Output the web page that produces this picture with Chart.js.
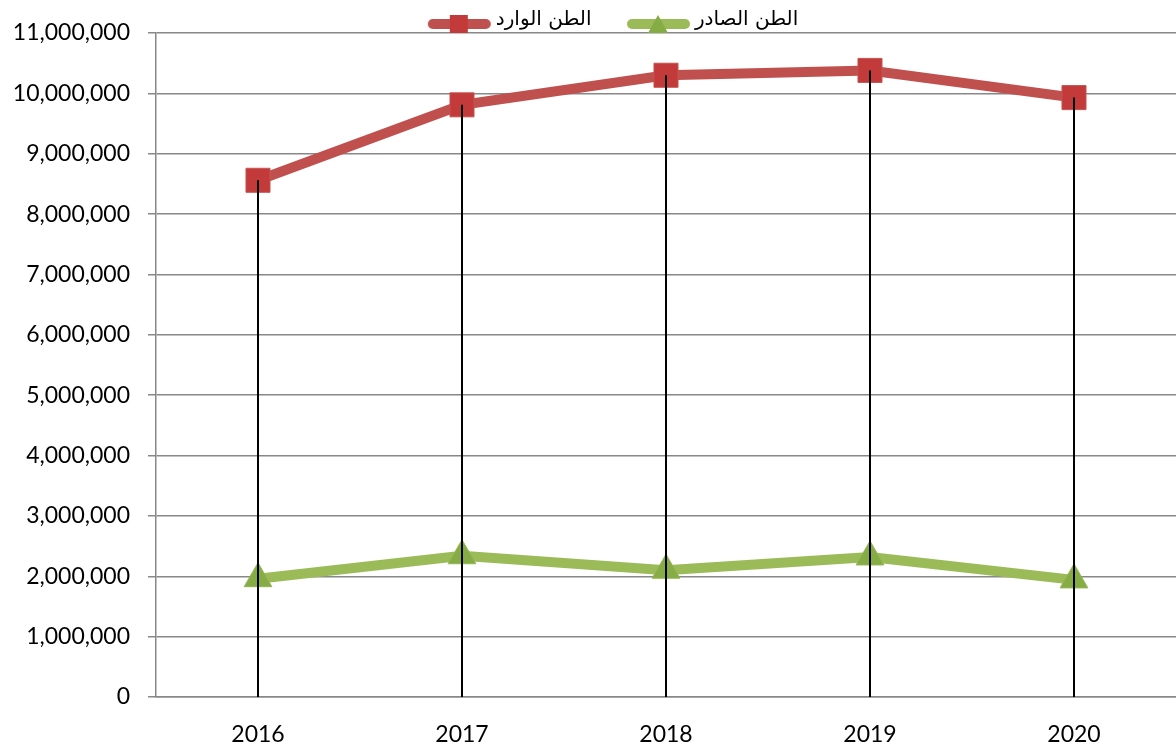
<!DOCTYPE html>
<html>
<head>
<meta charset="utf-8">
<script src="https://cdn.jsdelivr.net/npm/chart.js@4.4.0/dist/chart.umd.min.js"></script>
<style>
  html, body { margin: 0; padding: 0; background: #fff; overflow: hidden; }
  #wrap { width: 1176px; height: 746px; }
  canvas { display: block; }
</style>
</head>
<body>
<div id="wrap"><canvas id="portChart"></canvas></div>
<script>
// years on the category axis
const years = ["2016", "2017", "2018", "2019", "2020"];
// incoming tonnage (red) and outgoing tonnage (green)
const incomingTons = [8560000, 9810000, 10300000, 10380000, 9930000];
const outgoingTons = [1960000, 2340000, 2100000, 2320000, 1940000];
const seriesNames = ["الطن الوارد", "الطن الصادر"];

const RED = "#C0504D";
const GREEN = "#9BBB59";

// small line + marker picture for the legend
function legendIcon(color, fill, marker) {
  const c = document.createElement("canvas");
  c.width = 80;
  c.height = 30;
  const g = c.getContext("2d");
  g.strokeStyle = color;
  g.lineWidth = 10;
  g.lineCap = "round";
  g.beginPath();
  g.moveTo(16, 19);
  g.lineTo(69, 19);
  g.stroke();
  g.fillStyle = fill;
  if (marker === "rect") {
    g.fillRect(33, 10, 18, 18);
  } else {
    g.beginPath();
    g.moveTo(42, 10);
    g.lineTo(52, 28);
    g.lineTo(32, 28);
    g.closePath();
    g.fill();
  }
  return c;
}
const redIcon = legendIcon(RED, "#C23A3A", "rect");
const greenIcon = legendIcon(GREEN, "#86AC45", "triangle");

// Excel style drop lines: from the highest point of each year down to the axis
const dropLines = {
  id: "dropLines",
  afterDatasetsDraw(chart) {
    const {ctx, chartArea, scales} = chart;
    ctx.save();
    ctx.strokeStyle = "#000";
    ctx.lineWidth = 2;
    years.forEach((y, i) => {
      const top = Math.max(incomingTons[i], outgoingTons[i]);
      const px = Math.round(scales.x.getPixelForValue(i));
      const py = scales.y.getPixelForValue(top);
      ctx.beginPath();
      ctx.moveTo(px, py);
      ctx.lineTo(px, chartArea.bottom);
      ctx.stroke();
    });
    ctx.restore();
  }
};

// keep the legend band as thin as the original and nudge it right a bit
const legendTweak = {
  id: "legendTweak",
  beforeLayout(chart) {
    const lg = chart.legend;
    if (lg && !lg._thin) {
      const fit = lg.fit;
      lg.fit = function () {
        fit.call(this);
        this.height = 33;
      };
      lg._thin = true;
    }
  },
  afterLayout(chart) {
    const lg = chart.legend;
    if (lg) {
      lg.left += 25;
      lg.right += 25;
    }
  }
};

const data = {
  labels: years,
  datasets: [
    {
      label: seriesNames[0],
      data: incomingTons,
      borderColor: RED,
      borderWidth: 10,
      pointStyle: "rect",
      pointRadius: 17,
      pointHoverRadius: 17,
      pointBackgroundColor: "#C23A3A",
      pointBorderColor: "#C75451",
      pointBorderWidth: 1,
      tension: 0
    },
    {
      label: seriesNames[1],
      data: outgoingTons,
      borderColor: GREEN,
      borderWidth: 10,
      pointStyle: "triangle",
      pointRadius: 16,
      pointHoverRadius: 16,
      pointBackgroundColor: "#86AC45",
      pointBorderColor: "#93B653",
      pointBorderWidth: 1,
      tension: 0
    }
  ]
};

const config = {
  type: "line",
  data: data,
  options: {
    responsive: true,
    maintainAspectRatio: false,
    animation: false,
    layout: { autoPadding: false, padding: 0 },
    plugins: {
      tooltip: { enabled: false },
      legend: {
        position: "top",
        labels: {
          usePointStyle: true,
          pointStyleWidth: 58,
          padding: 10,
          color: "#000",
          font: { family: "'DejaVu Sans', 'Liberation Sans', sans-serif", size: 20 },
          generateLabels(chart) {
            return chart.data.datasets.map((ds, i) => ({
              // a few trailing spaces widen the gap between the two entries
              text: i === 0 ? ds.label + "    " : ds.label,
              pointStyle: i === 0 ? redIcon : greenIcon,
              fillStyle: ds.borderColor,
              strokeStyle: ds.borderColor,
              lineWidth: 0,
              hidden: false,
              datasetIndex: i
            }));
          }
        }
      }
    },
    scales: {
      x: {
        offset: true,
        grid: { display: false, drawTicks: false },
        border: { display: true, color: "#888", width: 1.5 },
        ticks: {
          color: "#000",
          padding: 24,
          font: { family: "Lato, 'Open Sans', sans-serif", size: 23 }
        },
        afterFit(scale) {
          scale.height = 49;
          scale.paddingLeft = 0;
          scale.paddingRight = 0;
        }
      },
      y: {
        min: 0,
        max: 11000000,
        grid: { color: "#888", lineWidth: 1.5, tickLength: 8 },
        border: { display: true, color: "#888", width: 1.5 },
        ticks: {
          stepSize: 1000000,
          color: "#000",
          padding: 18,
          font: { family: "Lato, 'Open Sans', sans-serif", size: 23 },
          callback: v => v.toLocaleString("en-US")
        },
        afterFit(scale) { scale.width = 156; }
      }
    }
  },
  plugins: [dropLines, legendTweak]
};

const myChart = new Chart(document.getElementById("portChart"), config);
</script>
</body>
</html>
